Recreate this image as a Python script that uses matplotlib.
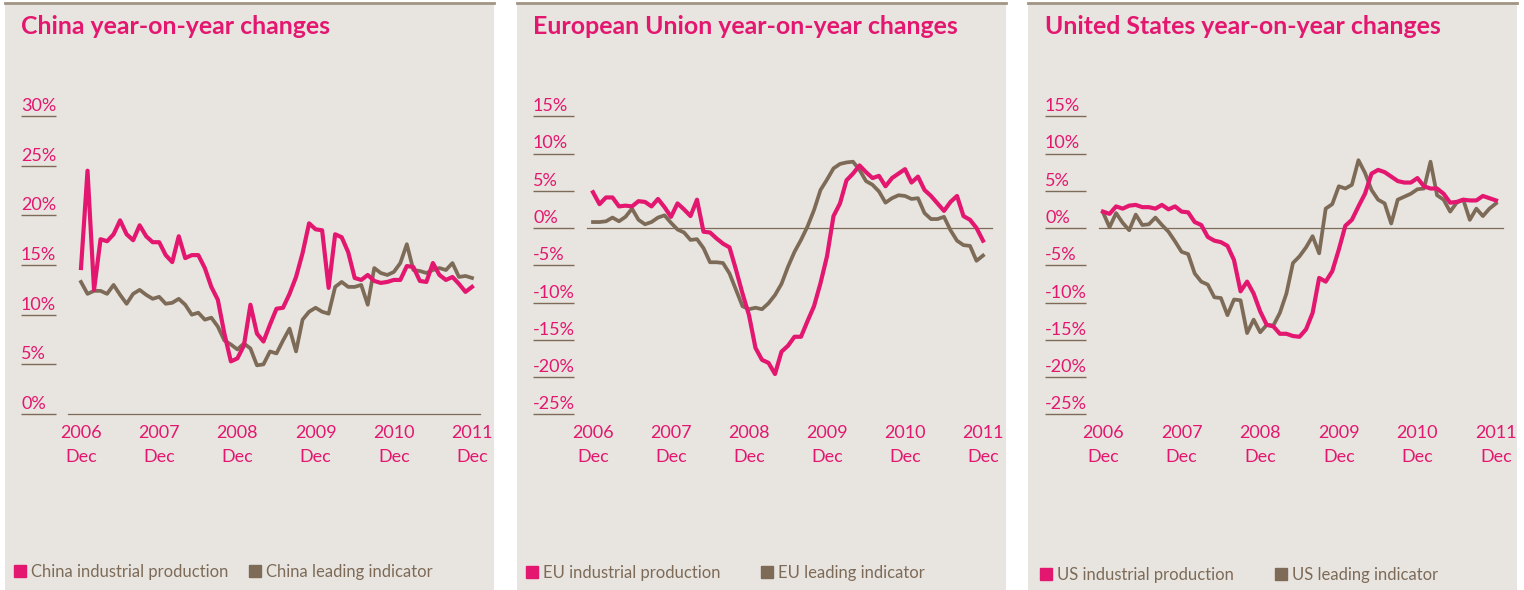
import numpy as np
import matplotlib
matplotlib.use('Agg')
import matplotlib.pyplot as plt
from matplotlib.lines import Line2D
from matplotlib.legend import Legend
from matplotlib.transforms import blended_transform_factory

plt.rcParams['font.family'] = ['Lato', 'DejaVu Sans']

PINK = '#E3176F'
BROWN = '#7D6B58'
BG = '#E8E5E0'
RULE = '#A09483'

W, H = 1524, 590

# monthly values, Dec 2006 .. Dec 2011
months = np.arange(61)
tick_months = [0, 12, 24, 36, 48, 60]
tick_years = ['2006', '2007', '2008', '2009', '2010', '2011']

china_ip = [14.7, 24.5, 12.5, 17.6, 17.4, 18.1, 19.5, 18.1, 17.5, 19.0,
            17.9, 17.3, 17.3, 16.0, 15.3, 17.9, 15.7, 16.0, 16.0, 14.7,
            12.8, 11.5, 8.1, 5.3, 5.6, 6.9, 11.0, 8.1, 7.3, 9.0,
            10.6, 10.7, 12.1, 13.8, 16.2, 19.2, 18.6, 18.5, 12.7, 18.1,
            17.8, 16.3, 13.7, 13.5, 14.0, 13.4, 13.2, 13.3, 13.5, 13.5,
            14.9, 14.8, 13.4, 13.3, 15.2, 14.0, 13.5, 13.8, 13.1, 12.3, 12.8]
china_li = [13.3, 12.1, 12.4, 12.4, 12.1, 13.0, 12.0, 11.1, 12.1, 12.5,
            12.0, 11.6, 11.8, 11.1, 11.2, 11.6, 11.0, 10.0, 10.2, 9.5,
            9.7, 8.8, 7.4, 7.0, 6.5, 7.1, 6.6, 4.9, 5.0, 6.3,
            6.1, 7.4, 8.6, 6.3, 9.5, 10.3, 10.7, 10.3, 10.1, 12.8,
            13.3, 12.8, 12.8, 13.0, 11.0, 14.7, 14.2, 14.0, 14.3, 15.2,
            17.1, 14.5, 14.4, 14.2, 14.5, 14.7, 14.5, 15.2, 13.8, 13.9, 13.7]

eu_ip = [4.8, 3.2, 4.1, 4.1, 2.9, 3.0, 2.9, 3.6, 3.5, 2.9,
         3.9, 2.8, 1.5, 3.3, 2.5, 1.6, 3.8, -0.5, -0.6, -1.4,
         -2.1, -2.6, -5.6, -8.8, -11.7, -16.1, -17.7, -18.1, -19.6, -16.6,
         -15.8, -14.6, -14.6, -12.5, -10.5, -7.4, -3.8, 1.6, 3.3, 6.4,
         7.3, 8.4, 7.5, 6.7, 7.0, 5.6, 6.7, 7.3, 7.9, 6.1,
         6.9, 5.1, 4.3, 3.3, 2.3, 3.5, 4.3, 1.6, 1.1, 0.0, -1.7]
eu_li = [0.8, 0.8, 0.9, 1.4, 0.9, 1.5, 2.6, 1.1, 0.5, 0.8,
         1.4, 1.7, 0.7, -0.2, -0.6, -1.6, -1.5, -2.7, -4.6, -4.6,
         -4.7, -6.1, -8.3, -10.5, -10.9, -10.7, -10.9, -10.1, -9.0, -7.5,
         -5.2, -3.2, -1.6, 0.2, 2.4, 5.1, 6.5, 8.0, 8.6, 8.8,
         8.9, 7.8, 6.3, 5.8, 4.9, 3.4, 4.0, 4.4, 4.3, 3.9,
         4.0, 2.0, 1.2, 1.2, 1.5, -0.3, -1.7, -2.3, -2.4, -4.4, -3.7]

us_ip = [2.2, 1.9, 2.9, 2.6, 3.0, 3.1, 2.8, 2.8, 2.6, 3.1,
         2.5, 2.9, 2.2, 2.1, 0.8, 0.4, -1.2, -1.7, -1.9, -2.4,
         -4.3, -8.5, -7.2, -8.8, -11.2, -13.0, -13.2, -14.2, -14.2, -14.5,
         -14.6, -13.6, -11.4, -6.7, -7.2, -5.8, -2.9, 0.3, 1.1, 2.9,
         4.6, 7.3, 7.8, 7.5, 6.9, 6.3, 6.1, 6.1, 6.7, 5.6,
         5.3, 5.3, 4.6, 3.4, 3.5, 3.8, 3.7, 3.7, 4.3, 4.0, 3.7]
us_li = [2.1, 0.1, 2.0, 0.7, -0.3, 1.8, 0.4, 0.5, 1.4, 0.4,
         -0.5, -1.8, -3.2, -3.5, -6.1, -7.2, -7.6, -9.3, -9.4, -11.7,
         -9.6, -9.7, -14.1, -12.3, -14.0, -13.0, -13.1, -11.4, -8.8, -4.7,
         -3.8, -2.6, -1.1, -3.4, 2.6, 3.2, 5.6, 5.3, 5.8, 9.1,
         7.4, 5.1, 3.8, 3.3, 0.6, 3.8, 4.2, 4.6, 5.2, 5.3,
         8.9, 4.4, 3.8, 2.2, 3.4, 3.8, 1.1, 2.6, 1.6, 2.6, 3.3]

china_ticks = [0, 5, 10, 15, 20, 25, 30]
eu_us_ticks = [-25, -20, -15, -10, -5, 0, 5, 10, 15]

fig = plt.figure(figsize=(W / 100, H / 100), dpi=100)


def panel(left, right, x0, x60, y0, ppu, lab_x, lab_w, zero_px, title,
          yticks, ip, li, names, leg_x, leg_y):
    top = 3
    ax = fig.add_axes([left / W, 0, (right - left) / W, (H - top) / H])
    ax.set_facecolor(BG)
    k = (x60 - x0) / 60
    ax.set_xlim((left - x0) / k, (right - x0) / k)
    ax.set_ylim((y0 - H) / ppu, (y0 - top) / ppu)
    for sp in ['left', 'right', 'bottom']:
        ax.spines[sp].set_visible(False)
    ax.spines['top'].set_color(RULE)
    ax.spines['top'].set_linewidth(2)
    ax.set_xticks([])
    ax.set_yticks([])

    fx = lambda px: (px - left) / (right - left)
    fy = lambda py: (H - py) / (H - top)

    ax.text(fx(lab_x), fy(26), title, transform=ax.transAxes, ha='left',
            va='center', color=PINK, fontsize=17.9, fontweight='bold')

    # y labels with the short rule under each
    ytr = blended_transform_factory(ax.transAxes, ax.transData)
    for v in yticks:
        ax.text(fx(lab_x), v + 2.0 / ppu, f'{v}%', transform=ytr,
                ha='left', va='bottom', color=PINK, fontsize=13)
        ax.plot([fx(lab_x), fx(lab_x + lab_w)], [v, v], transform=ytr,
                color=BROWN, lw=1, solid_capstyle='butt')

    ax.axhline(0, fx(zero_px[0]), fx(zero_px[1]), color=BROWN, lw=0.9)

    xtr = blended_transform_factory(ax.transData, ax.transAxes)
    for m, yr in zip(tick_months, tick_years):
        ax.text(m, fy(433), yr, transform=xtr, ha='center', va='center',
                color=PINK, fontsize=13)
        ax.text(m, fy(457), 'Dec', transform=xtr, ha='center', va='center',
                color=PINK, fontsize=13)

    ax.plot(months, li, color=BROWN, lw=2.7)
    ax.plot(months, ip, color=PINK, lw=3.0)

    for i, (name, col) in enumerate(zip(names, [PINK, BROWN])):
        h = Line2D([], [], marker='s', ls='none', color=col, markersize=8)
        leg = Legend(ax, [h], [name], loc='center left',
                     bbox_to_anchor=(fx(leg_x + i * 235), fy(leg_y)),
                     frameon=False, handlelength=0.8, handletextpad=0.3,
                     borderaxespad=0, borderpad=0, fontsize=12)
        for t in leg.get_texts():
            t.set_color(BROWN)
        ax.add_artist(leg)
    return ax


panel(5, 494, 81, 472, 414, 9.93, 21, 35, (68, 480),
      'China year-on-year changes', china_ticks, china_ip, china_li,
      ['China industrial production', 'China leading indicator'], 13, 572)
panel(517, 1006, 593, 983, 228, 7.45, 533, 41, (587, 992),
      'European Union year-on-year changes', eu_us_ticks, eu_ip, eu_li,
      ['EU industrial production', 'EU leading indicator'], 525, 573)
panel(1028, 1517, 1103, 1496, 228, 7.45, 1045, 41, (1099, 1503),
      'United States year-on-year changes', eu_us_ticks, us_ip, us_li,
      ['US industrial production', 'US leading indicator'], 1039, 575)

fig.savefig('out.png', dpi=100, facecolor='white')
